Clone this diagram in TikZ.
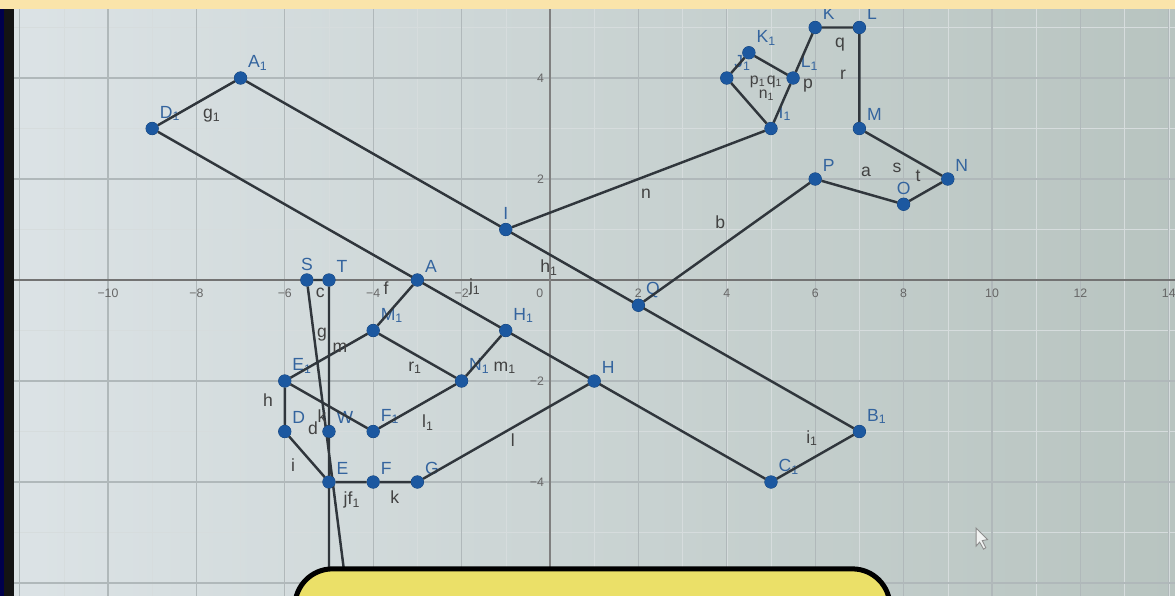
\documentclass[tikz,border=0pt]{standalone}
\usepackage{fontspec}
\setmainfont{Liberation Sans}
\usetikzlibrary{positioning}

\definecolor{segcol}{RGB}{48,54,60}
\definecolor{ptcol}{RGB}{28,88,160}
\definecolor{ptlbl}{RGB}{52,100,158}
\definecolor{seglbl}{RGB}{66,66,66}
\definecolor{gridmaj}{RGB}{176,184,186}
\definecolor{gridmin}{RGB}{214,220,221}
\definecolor{boxfill}{RGB}{235,224,104}
\definecolor{beige}{RGB}{250,228,170}
\definecolor{bgleft}{RGB}{220,227,230}
\definecolor{bgmid}{RGB}{231,236,237}
\definecolor{bgright}{RGB}{184,196,192}

\begin{document}
\begin{tikzpicture}[x=0.884cm,y=1.01cm,
pt/.style={circle,fill=ptcol,draw=ptcol!75!black,line width=0.4pt,inner sep=0pt,minimum size=0.25cm},
seg/.style={draw=segcol,line width=1.4pt},
lbl/.style={text=ptlbl,font=\fontsize{10}{12}\selectfont,inner sep=1.5pt},
slbl/.style={text=seglbl,font=\fontsize{10}{12}\selectfont,inner sep=0pt},
tick/.style={text=black!60,font=\fontsize{7}{8}\selectfont,inner sep=0pt},
%axis/.style={draw=black!55,line width=0.8pt},
]
\useasboundingbox (-12.443,-6.238) rectangle (14.140,5.545);
\clip (-12.443,-6.238) rectangle (14.140,5.545);
\shade[left color=bgleft,middle color=bgmid,right color=bgright] (-12.443,-6.238) rectangle (14.140,5.545);

% grid
\foreach \gx in {-12,...,14}
	\draw[gridmin,line width=0.25pt] (\gx,-6.3) -- (\gx,5.6);
\foreach \gy in {-6,...,5}
	\draw[gridmin,line width=0.25pt] (-12.5,\gy) -- (14.2,\gy);
\foreach \gx in {-12,-10,...,14}
	\draw[gridmaj,line width=0.6pt] (\gx,-6.3) -- (\gx,5.6);
\foreach \gy in {-6,-4,...,4}
	\draw[gridmaj,line width=0.6pt] (-12.5,\gy) -- (14.2,\gy);
\draw[black!55,line width=0.8pt] (-12.5,0) -- (14.2,0);
\draw[black!50,line width=0.7pt] (0,-6.3) -- (0,5.6);

% tick labels
\foreach \gx in {-10,-8,-6,-4,-2}
	\node[tick] at (\gx,-0.27) {−\the\numexpr-\gx\relax};
\foreach \gx in {2,4,...,14}
	\node[tick] at (\gx,-0.27) {\gx};
\node[tick] at (-0.23,-0.27) {0};
\node[tick,anchor=east] at (-0.13,4) {4};
\node[tick,anchor=east] at (-0.13,2) {2};
\node[tick,anchor=east] at (-0.13,-2) {−2};
\node[tick,anchor=east] at (-0.13,-4) {−4};

% points
\node[pt,label={[lbl]above right:A}] (A) at (-3,0) {};
\node[pt,label={[lbl]above right:A\textsubscript{1}}] (A1) at (-7,4) {};
\node[pt,label={[lbl]above right:D\textsubscript{1}}] (D1) at (-9,3) {};
\node[pt,label={[lbl]above right:B\textsubscript{1}}] (B1) at (7,-3) {};
\node[pt,label={[lbl]above right:C\textsubscript{1}}] (C1) at (5,-4) {};
\node[pt,label={[lbl]above:I}] (I) at (-1,1) {};
\node[pt,label={[lbl]above right:I\textsubscript{1}}] (I1) at (5,3) {};
\node[pt,label={[lbl]above right:J\textsubscript{1}}] (J1) at (4,4) {};
\node[pt,label={[lbl]above right:K\textsubscript{1}}] (K1) at (4.5,4.5) {};
\node[pt,label={[lbl]above right:L\textsubscript{1}}] (L1) at (5.5,4) {};
\node[pt,label={[lbl]above right:K}] (K) at (6,5) {};
\node[pt,label={[lbl]above right:L}] (L) at (7,5) {};
\node[pt,label={[lbl]above right:M}] (M) at (7,3) {};
\node[pt,label={[lbl]above right:N}] (N) at (9,2) {};
\node[pt,label={[lbl]above:O}] (O) at (8,1.5) {};
\node[pt,label={[lbl]above right:P}] (P) at (6,2) {};
\node[pt,label={[lbl]above right:Q}] (Q) at (2,-0.5) {};
\node[pt,label={[lbl]above right:H}] (H) at (1,-2) {};
\node[pt,label={[lbl]above right:H\textsubscript{1}}] (H1) at (-1,-1) {};
\node[pt,label={[lbl]above right:M\textsubscript{1}}] (M1) at (-4,-1) {};
\node[pt,label={[lbl]above right:N\textsubscript{1}}] (N1) at (-2,-2) {};
\node[pt,label={[lbl]above right:E\textsubscript{1}}] (E1) at (-6,-2) {};
\node[pt,label={[lbl]above right:D}] (D) at (-6,-3) {};
\node[pt,label={[lbl]above right:W}] (W) at (-5,-3) {};
\node[pt,label={[lbl]above right:F\textsubscript{1}}] (F1) at (-4,-3) {};
\node[pt,label={[lbl]above right:E}] (E) at (-5,-4) {};
\node[pt,label={[lbl]above right:F}] (F) at (-4,-4) {};
\node[pt,label={[lbl]above right:G}] (G) at (-3,-4) {};
\node[pt,label={[lbl]above:S}] (S) at (-5.5,0) {};
\node[pt,label={[lbl]above right:T}] (T) at (-5,0) {};
\coordinate (Send) at (-4.58,-6.3);
\coordinate (Tend) at (-5,-6.3);

% segments
\draw[seg] (D1) -- (A1) -- (B1) -- (C1) -- (D1);
\draw[seg] (I) -- (I1) -- (J1) -- (K1) -- (L1) -- (I1);
\draw[seg] (L1) -- (K) -- (L) -- (M) -- (N) -- (O) -- (P) -- (Q);
\draw[seg] (A) -- (M1) -- (E1) -- (F1) -- (N1) -- (H1);
\draw[seg] (M1) -- (N1);
\draw[seg] (E1) -- (D) -- (E) -- (F) -- (G) -- (H);
\draw[seg] (Send) -- (S) -- (T) -- (Tend);
% redraw the dots above the lines
\foreach \p in {A,A1,D1,B1,C1,I,I1,J1,K1,L1,K,L,M,N,O,P,Q,H,H1,M1,N1,E1,D,W,F1,E,F,G,S,T}
	\fill[ptcol] (\p) circle[radius=0.124cm];

% segment names
\node[slbl] (g1) at (-7.65,3.25) {g\textsubscript{1}};
\node[slbl] (n) at (2.17,1.70) {n};
\node[slbl] (b) at (3.85,1.15) {b};
\node[slbl] (h1) at (-0.02,0.24) {h\textsubscript{1}};
\node[slbl] (i1) at (5.93,-3.13) {i\textsubscript{1}};
\node[slbl] (a) at (7.15,2.14) {a};
\node[slbl] (s) at (7.85,2.22) {s};
\node[slbl] (t) at (8.33,2.06) {t};
\node[slbl] (q) at (6.56,4.67) {q};
\node[slbl] (r) at (6.63,4.06) {r};
\node[slbl] (p) at (5.84,3.84) {p};
\node[slbl,font=\fontsize{9}{10}\selectfont] (p1) at (4.70,3.92) {p\textsubscript{1}};
\node[slbl,font=\fontsize{9}{10}\selectfont] (q1) at (5.08,3.92) {q\textsubscript{1}};
\node[slbl,font=\fontsize{9}{10}\selectfont] (n1) at (4.90,3.66) {n\textsubscript{1}};
\node[slbl] (c) at (-5.20,-0.26) {c};
\node[slbl] (f) at (-3.71,-0.16) {f};
\node[slbl] (j1) at (-1.70,-0.14) {j\textsubscript{1}};
\node[slbl] (g) at (-5.16,-1.09) {g};
\node[slbl] (m) at (-4.75,-1.35) {m};
\node[slbl] (r1) at (-3.05,-1.74) {r\textsubscript{1}};
\node[slbl] (m1) at (-1.02,-1.74) {m\textsubscript{1}};
\node[slbl] (h) at (-6.38,-2.38) {h};
\node[slbl] (k1) at (-5.16,-2.69) {k};
\node[slbl] (d) at (-5.36,-2.93) {d};
\node[slbl] (l1) at (-2.76,-2.83) {l\textsubscript{1}};
\node[slbl] (i) at (-5.81,-3.66) {i};
\node[slbl] (jf1) at (-4.48,-4.36) {jf\textsubscript{1}};
\node[slbl] (k) at (-3.51,-4.30) {k};
\node[slbl] (l) at (-0.84,-3.17) {l};

% mouse pointer
\draw[black!45,line width=0.5pt,fill=white!80!bgright] (9.64,-4.91) -- ++(0,-0.36) -- ++(0.08,0.08) -- ++(0.09,-0.14) -- ++(0.05,0.03) -- ++(-0.08,0.14) -- ++(0.12,0.02) -- cycle;

% photo frame
\fill[beige] (-12.5,5.366) rectangle (14.2,5.6);
\fill[black!92] (-12.5,-6.3) rectangle (-12.126,5.366);
\fill[blue!30!black] (-12.5,-6.3) rectangle (-12.36,5.366);

% yellow box
\draw[fill=boxfill,draw=black,line width=0.1cm,rounded corners=0.75cm] (-5.77,-5.72) rectangle (7.69,-7.5);
\end{tikzpicture}
\end{document}
